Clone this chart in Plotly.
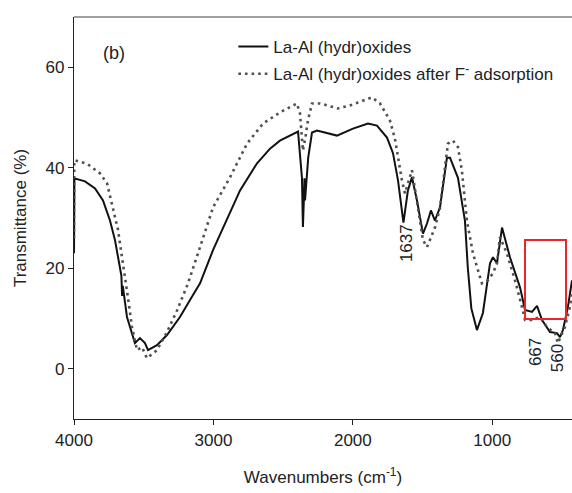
import plotly.graph_objects as go

# Solid: La-Al (hydr)oxides
solid_wn = [4000, 3997, 3921, 3849, 3792, 3742, 3706, 3660, 3655, 3650, 3620, 3563, 3527, 3491, 3469,
            3405, 3333, 3240, 3168, 3096, 3003, 2931, 2809, 2687, 2594, 2523, 2393, 2365, 2358, 2352,
            2347, 2343, 2320, 2293, 2257, 2114, 1999, 1891, 1827, 1755, 1712, 1676, 1648, 1637, 1605,
            1576, 1540, 1497, 1468, 1440, 1411, 1375, 1325, 1303, 1246, 1196, 1175, 1150, 1110, 1067,
            1016, 995, 966, 930, 873, 801, 765, 715, 679, 643, 586, 536, 514, 493, 457, 428]
solid_t = [23.0, 37.9, 37.3, 35.9, 33.5, 29.5, 25.6, 18.5, 14.5, 16.5, 10.3, 5.1, 6.1, 5.1, 3.7,
           4.7, 6.7, 10.3, 13.7, 17.0, 23.6, 28.1, 35.5, 40.9, 43.8, 45.4, 47.2, 38.0, 28.2, 33.0,
           37.9, 33.5, 42.0, 47.0, 47.4, 46.4, 47.8, 48.8, 48.4, 46.0, 42.9, 37.5, 30.9, 29.1, 35.5,
           38.1, 33.5, 26.9, 28.9, 31.5, 29.5, 32.1, 42.0, 42.0, 38.0, 29.5, 20.0, 12.0, 7.7, 11.1,
           21.0, 22.2, 21.0, 28.1, 22.2, 16.2, 11.7, 11.3, 12.5, 9.7, 7.3, 7.1, 6.3, 7.7, 12.3, 17.6]

# Dotted: after F- adsorption
dot_wn = [4000, 3998, 3907, 3814, 3763, 3720, 3684, 3656, 3634, 3613, 3584, 3548, 3512, 3477, 3405,
          3333, 3261, 3182, 3096, 3003, 2881, 2759, 2644, 2523, 2401, 2379, 2358, 2340, 2322, 2293,
          2236, 2107, 2021, 1928, 1863, 1805, 1734, 1698, 1676, 1648, 1626, 1590, 1576, 1550, 1497,
          1468, 1411, 1375, 1339, 1318, 1282, 1246, 1218, 1182, 1138, 1088, 1074, 1031, 995, 966,
          945, 894, 837, 787, 765, 715, 658, 608, 550, 529, 479, 443, 428]
dot_t = [26.0, 41.5, 40.8, 38.9, 36.9, 32.1, 27.6, 22.2, 17.6, 14.2, 8.3, 3.7, 4.3, 2.1, 3.7,
         7.3, 11.6, 17.0, 24.2, 32.1, 38.1, 44.8, 48.8, 51.0, 52.8, 50.8, 43.4, 46.0, 49.4, 52.8,
         52.8, 51.8, 52.4, 53.4, 54.0, 52.8, 49.4, 45.8, 42.0, 37.5, 34.9, 38.1, 39.5, 35.0, 25.6,
         24.2, 28.1, 32.0, 39.5, 44.8, 45.4, 44.1, 39.5, 29.5, 22.9, 18.2, 17.0, 17.6, 19.0, 21.0,
         26.2, 22.9, 17.6, 12.3, 9.7, 9.7, 10.3, 8.3, 7.1, 5.1, 8.3, 12.3, 15.0]

series_names = ["La-Al (hydr)oxides", "La-Al (hydr)oxides after F<sup>-</sup> adsorption"]
peak_labels = ["1637", "667", "560"]
peak_label_pos = [(1619, 25.0), (694, 3.3), (536, 2.1)]
x_ticks = [4000, 3000, 2000, 1000]
y_ticks = [0, 20, 40, 60]

FONT = "Liberation Sans, Arial, sans-serif"
TXT = "#222222"

fig = go.Figure()
fig.add_trace(go.Scatter(x=solid_wn, y=solid_t, mode="lines", name=series_names[0],
                         legendgroup="a",
                         line=dict(color="#111111", width=2)))
fig.add_trace(go.Scatter(x=dot_wn, y=dot_t, mode="lines", name=series_names[1],
                         legendgroup="b",
                         line=dict(color="#505050", width=2.6, dash="2.6px,4px")))

for lab, (lx, ly) in zip(peak_labels, peak_label_pos):
    fig.add_annotation(x=lx, y=ly, text=lab, textangle=-90, showarrow=False,
                       font=dict(family=FONT, size=17, color=TXT))

fig.add_annotation(x=3713, y=62.9, text="(b)", showarrow=False,
                   font=dict(family=FONT, size=18, color=TXT))

# red highlight box
fig.add_shape(type="rect", x0=765, x1=471, y0=9.9, y1=25.6,
              line=dict(color="#e8262b", width=2), fillcolor="rgba(0,0,0,0)")
# top frame line (gray)
fig.add_shape(type="line", xref="paper", yref="paper", x0=0, x1=1, y0=1, y1=1,
              line=dict(color="#808080", width=1.5))

fig.update_layout(
    width=572, height=493,
    margin=dict(l=74, r=0, t=17, b=74),
    paper_bgcolor="white", plot_bgcolor="white",
    font=dict(family=FONT, size=17, color=TXT),
    showlegend=True,
    legend=dict(x=0.32, y=0.97, xanchor="left", yanchor="top",
                bgcolor="rgba(0,0,0,0)", font=dict(family=FONT, size=17, color=TXT),
                traceorder="grouped", tracegroupgap=2),
    xaxis=dict(range=[4000, 428], tickvals=x_ticks, ticks="outside", ticklen=5,
               tickcolor="#222", showline=True, linecolor="#222", linewidth=1.2,
               showgrid=False, zeroline=False,
               title=dict(text="Wavenumbers (cm<sup>-1</sup>)", standoff=22,
                          font=dict(size=17))),
    yaxis=dict(range=[-10, 70], tickvals=y_ticks, ticks="outside", ticklen=5,
               tickcolor="#222", showline=True, linecolor="#222", linewidth=1.2,
               showgrid=False, zeroline=False,
               title=dict(text="Transmittance (%)", standoff=14, font=dict(size=17))),
)

fig.write_html("out.html", config={"displayModeBar": False},
               post_script="document.body.style.margin='0px';document.body.style.overflow='hidden';")
